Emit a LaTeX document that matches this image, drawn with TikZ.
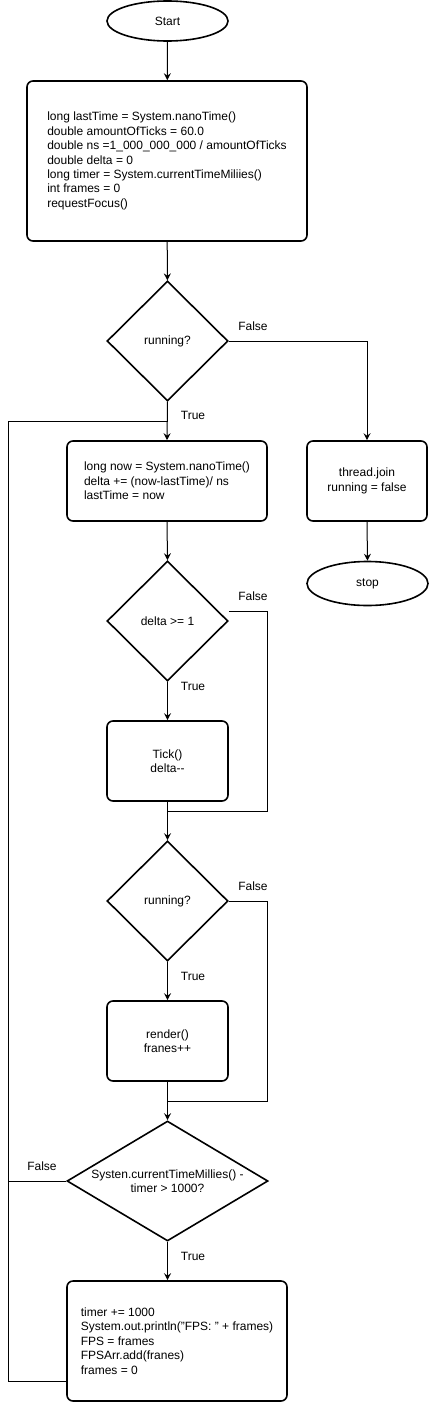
\documentclass[tikz,border=0pt]{standalone}
\usepackage{fontspec}
\setmainfont{Liberation Sans}
\usetikzlibrary{shapes.geometric,arrows.meta,calc}
\begin{document}
\begin{tikzpicture}[x=1pt,y=-1pt,
  every node/.style={font=\fontsize{12}{14.4}\selectfont, inner sep=0pt},
  shp/.style={draw, line width=1.6pt},
  term/.style={shp, ellipse, minimum width=121pt},
  proc/.style={shp, rectangle, rounded corners=6pt},
  dec/.style={shp, diamond, minimum height=120pt},
  con/.style={line width=1pt},
  arr/.style={con, -{Stealth[length=7pt,width=7pt,inset=2.5pt]}},
  lbl/.style={}]
\useasboundingbox (0,0) rectangle (429,1402);
\node[term, minimum height=40pt] (start) at (167.5,21) {Start};
\node[proc, minimum width=280pt, minimum height=160pt, align=left] (init) at (167,161)
  {long lastTime = System.nanoTime()\\double amountOfTicks = 60.0\\double ns =1\_000\_000\_000 / amountOfTicks\\double delta = 0\\long timer = System.currentTimeMiliies()\\int frames = 0\\requestFocus()};
\node[dec, minimum width=121pt] (run1) at (167.5,341) {running?};
\node[proc, minimum width=200pt, minimum height=80pt, align=left] (update) at (167,481)
  {long now = System.nanoTime()\\delta += (now-lastTime)/ ns\\lastTime = now};
\node[proc, minimum width=120pt, minimum height=80pt, align=center] (thread) at (367,481)
  {thread.join\\running = false};
\node[term, minimum height=44pt] (stop) at (367.5,583.5) {stop};
\node[dec, minimum width=121pt] (delta) at (167.5,621) {delta >= 1};
\node[proc, minimum width=121pt, minimum height=80pt, align=center] (tick) at (167.5,761)
  {Tick()\\delta-{}-};
\node[dec, minimum width=121pt] (run2) at (167.5,901) {running?};
\node[proc, minimum width=121pt, minimum height=80pt, align=center] (render) at (167.5,1041)
  {render()\\franes++};
\node[dec, minimum width=201pt] (timer) at (167.5,1181) {};
\node[align=center] (timertext) at (timer.center) {Systen.currentTimeMillies() -\\timer > 1000?};
\node[proc, minimum width=220pt, minimum height=120pt, align=left] (fin) at (177,1341)
  {timer += 1000\\System.out.println("FPS: " + frames)\\FPS = frames\\FPSArr.add(franes)\\frames = 0};
% connectors
\draw[arr] (start) -- (init);
\draw[arr] (init) -- (run1);
\draw[arr] (run1.east) -| (thread.north);
\draw[arr] (run1.south) -- (update.north);
\draw[arr] (thread.south) -- (stop.north);
\draw[arr] (update.south) -- (delta.north);
\draw[arr] (delta.south) -- (tick.north);
\coordinate (dF) at ($(delta.east)+(0,-10)$);
\draw[con] (dF) -- (267,611) -- (267,811) -- (167.5,811);
\draw[arr] (tick.south) -- (run2.north);
\draw[arr] (run2.south) -- (render.north);
\draw[con] (run2.east) -- (267,901) -- (267,1101) -- (167.5,1101);
\draw[arr] (render.south) -- (timer.north);
\draw[arr] (timer.south) -- (timer.south |- fin.north);
\draw[con] (timer.west) -- (8,1181);
\coordinate (fL) at (fin.west |- 0,1381);
\draw[con] (fL) -- (8,1381) -- (8,421) -- (167.5,421);
% labels
\node[lbl] (l1) at (253,326) {False};
\node[lbl] (l2) at (193,415) {True};
\node[lbl] (l3) at (253,596) {False};
\node[lbl] (l4) at (193,686) {True};
\node[lbl] (l5) at (253,886) {False};
\node[lbl] (l6) at (193,976) {True};
\node[lbl] (l7) at (42,1166) {False};
\node[lbl] (l8) at (193,1256) {True};
\end{tikzpicture}
\end{document}
